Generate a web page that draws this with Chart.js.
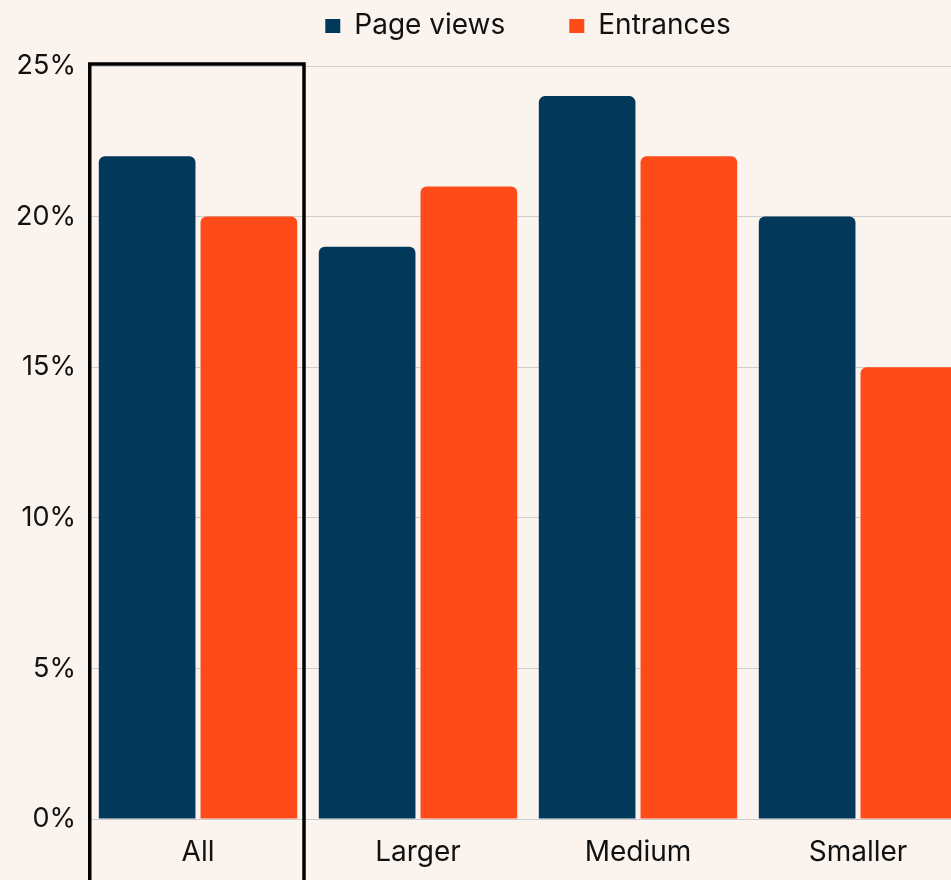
<!DOCTYPE html>
<html>
<head>
<meta charset="utf-8">
<script src="https://cdn.jsdelivr.net/npm/chart.js@4.4.1/dist/chart.umd.min.js"></script>
<style>
  html, body { margin: 0; padding: 0; background: #faf3ee; overflow: hidden; }
  #wrap { width: 968px; height: 880px; }
</style>
</head>
<body>
<div id="wrap"><canvas id="chart" width="968" height="880"></canvas></div>
<script>
// ---- data ----
const categories = ['All', 'Larger', 'Medium', 'Smaller'];
const pageViews = [22, 19, 24, 20];
const entrances = [20, 21, 22, 15];
const seriesNames = ['Page views', 'Entrances'];
const yTicks = [0, 5, 10, 15, 20, 25];
const highlightCategory = 'All';

// ---- style ----
const BLUE = '#02385a';
const ORANGE = '#ff4a1a';
const TEXT = '#111111';
const GRID = '#cccccc';
const FONT = 'Inter';
const LEGEND_PAD = 64;
const LEGEND_GAP_BELOW = 16;

Chart.defaults.font.family = FONT;
Chart.defaults.font.size = 27;
Chart.defaults.color = TEXT;

const legendSpacer = {
  id: 'legendSpacer',
  afterInit(chart) {
    const lg = chart.legend;
    if (lg && !lg._spacerPatched) {
      const fit = lg.fit;
      lg.fit = function () {
        fit.call(this);
        if (this.options.display) this.height += LEGEND_GAP_BELOW;
      };
      lg._spacerPatched = true;
    }
  }
};

const highlightBox = {
  id: 'highlightBox',
  afterDraw(chart) {
    const x = chart.scales.x, y = chart.scales.y;
    const idx = categories.indexOf(highlightCategory);
    if (idx < 0) return;
    const c = x.getPixelForValue(idx);
    const w = categories.length > 1 ? x.getPixelForValue(1) - x.getPixelForValue(0) : x.width;
    const left = c - w / 2 + 1.75;
    const right = c + w / 2 - 4;
    const top = y.getPixelForValue(yTicks[yTicks.length - 1]) - 2;
    const bottom = chart.height + 10;
    const ctx = chart.ctx;
    ctx.save();
    ctx.strokeStyle = '#000000';
    ctx.lineWidth = 3.5;
    ctx.strokeRect(left, top, right - left, bottom - top);
    ctx.restore();
  }
};

new Chart(document.getElementById('chart'), {
  type: 'bar',
  data: {
    labels: categories,
    datasets: [
      { label: seriesNames[0], data: pageViews, backgroundColor: BLUE },
      { label: seriesNames[1], data: entrances, backgroundColor: ORANGE }
    ]
  },
  options: {
    responsive: false,
    animation: false,
    devicePixelRatio: 1,
    categoryPercentage: 0.925,
    barPercentage: 0.95,
    borderRadius: 6,
    layout: { padding: { top: 12 - LEGEND_PAD, left: 0, right: 0, bottom: 0 } },
    plugins: {
      legend: {
        position: 'top',
        fullSize: false,
        labels: {
          boxWidth: 15,
          boxHeight: 14,
          padding: LEGEND_PAD,
          color: TEXT,
          font: { family: FONT, size: 28 }
        }
      },
      tooltip: { enabled: false }
    },
    scales: {
      x: {
        grid: { display: false },
        border: { display: false },
        ticks: { padding: 9, color: TEXT, font: { family: FONT, size: 28 } },
        afterFit(scale) { scale.height = 61; }
      },
      y: {
        min: yTicks[0],
        max: yTicks[yTicks.length - 1],
        afterBuildTicks(scale) { scale.ticks = yTicks.map(v => ({ value: v })); },
        grid: { color: GRID, lineWidth: 1, drawTicks: false },
        border: { display: false },
        ticks: {
          padding: 12,
          color: TEXT,
          font: { family: FONT, size: 27 },
          callback: v => v + '%'
        },
        afterFit(scale) { scale.width = 88; }
      }
    }
  },
  plugins: [legendSpacer, highlightBox]
});
</script>
</body>
</html>
